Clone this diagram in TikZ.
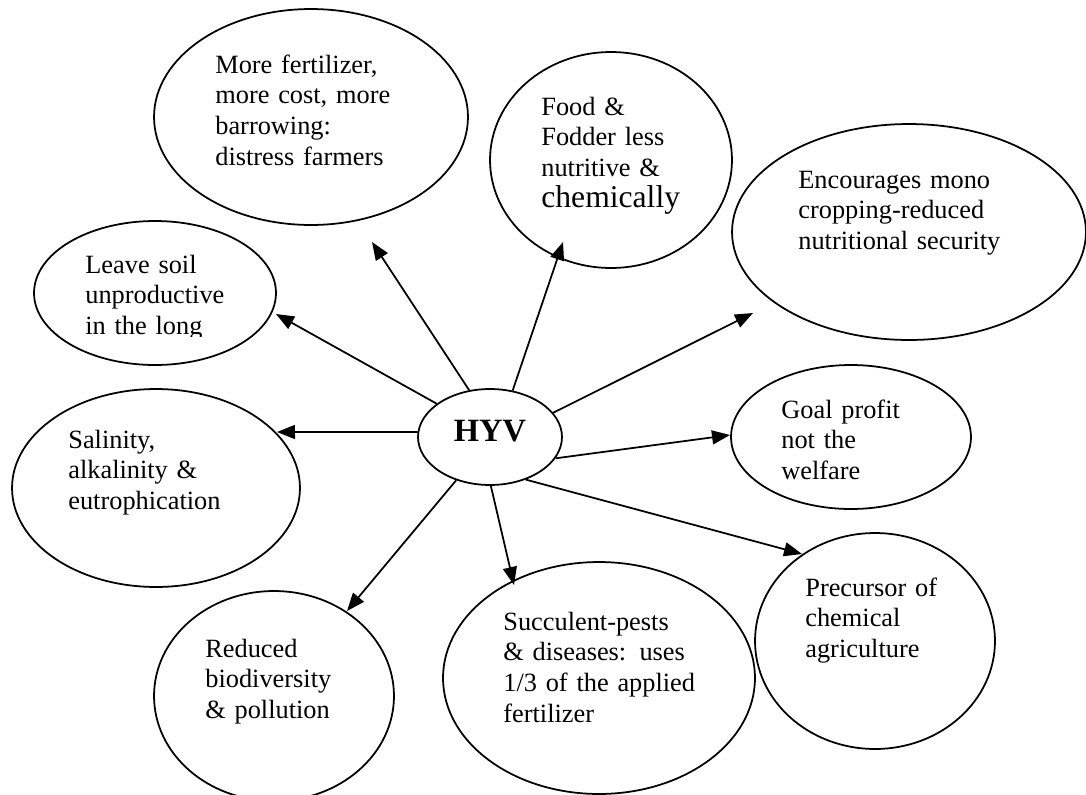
\documentclass[tikz,border=0pt]{standalone}
\usepackage{fontspec}
\setmainfont{Liberation Serif}
\usepackage{tikz}
\usetikzlibrary{shapes.geometric,arrows.meta}

\begin{document}
\begin{tikzpicture}[
    x=0.02cm,
    y=-0.02cm,
    bubble/.style={
        draw,
        ellipse,
        line width=1pt,
        inner sep=0pt
    },
    txt/.style={
        anchor=base west,
        inner sep=0pt,
        text width=7cm,
        align=left,
        font=\fontsize{15}{17.6}\selectfont
    },
    flow/.style={
        -{Triangle[length=0.36cm,width=0.28cm]},
        line width=1pt
    }
]
    \useasboundingbox (0,0) rectangle (1086,795);

    % Centre
    \node[bubble, minimum width=2.88cm, minimum height=1.92cm] (hyv) at (490,437) {};
    \node[font=\fontsize{18.5}{21}\selectfont\bfseries] (hyvT) at (490,431) {HYV};

    % Upper ring
    \node[bubble, minimum width=6.28cm, minimum height=4.32cm] (fert) at (311,117) {};
    \node[txt] (fertT) at (215,73) {More fertilizer,\\ more cost, more\\ barrowing:\\ distress farmers};

    \node[bubble, minimum width=4.84cm, minimum height=4.32cm] (food) at (611,160) {};
    \node[txt] (foodT) at (541,115) {Food \&\\ Fodder less\\ nutritive \&\\ {\fontsize{18}{21}\selectfont chemically}};

    \node[bubble, minimum width=7.08cm, minimum height=4.32cm] (mono) at (909,232) {};
    \node[txt] (monoT) at (798,188) {Encourages mono\\ cropping-reduced\\ nutritional security};

    \node[bubble, minimum width=4.84cm, minimum height=2.88cm] (soil) at (155,293) {};
    \begin{scope}
        \clip (0,0) rectangle (1086,336);
        \node[txt] (soilT) at (85,273) {Leave soil\\ unproductive\\ in the long};
    \end{scope}

    % Middle ring
    \node[bubble, minimum width=5.76cm, minimum height=3.96cm] (salt) at (156,488) {};
    \node[txt] (saltT) at (68,448) {Salinity,\\ alkalinity \&\\ eutrophication};

    \node[bubble, minimum width=4.8cm, minimum height=2.88cm] (goal) at (851,437) {};
    \node[txt] (goalT) at (781,418) {Goal profit\\ not the\\ welfare};

    % Lower ring
    \node[bubble, minimum width=4.8cm, minimum height=4.2cm] (bio) at (274,696) {};
    \node[txt] (bioT) at (205,657) {Reduced\\ biodiversity\\ \& pollution};

    \node[bubble, minimum width=6.24cm, minimum height=4.64cm] (pest) at (599,678) {};
    \node[txt] (pestT) at (503,630) {Succulent-pests\\ \& diseases: uses\\ 1/3 of the applied\\ fertilizer};

    \node[bubble, minimum width=4.8cm, minimum height=4.32cm] (chem) at (875,641) {};
    \node[txt] (chemT) at (805,596) {Precursor of\\ chemical\\ agriculture};

    % Arrow tips
    \coordinate (fertTip) at (372,242);
    \coordinate (foodTip) at (563,242);
    \coordinate (monoTip) at (753,313);
    \coordinate (soilTip) at (276,314);
    \coordinate (saltTip) at (277,432);
    \coordinate (goalTip) at (730,435);
    \coordinate (chemTip) at (802,554);
    \coordinate (pestTip) at (514,585);
    \coordinate (bioTip) at (347,611);

    % Effects of HYV
    \draw[flow] (hyv.114) -- (fertTip);
    \draw[flow] (hyv.64) -- (foodTip);
    \draw[flow] (hyv.21) -- (monoTip);
    \draw[flow] (hyv.148) -- (soilTip);
    \draw[flow] (hyv.176) -- (saltTip);
    \draw[flow] (hyv.-18) -- (goalTip);
    \draw[flow] (hyv.-50) -- (chemTip);
    \draw[flow] (hyv.-89) -- (pestTip);
    \draw[flow] (hyv.-128) -- (bioTip);

\end{tikzpicture}
\end{document}
